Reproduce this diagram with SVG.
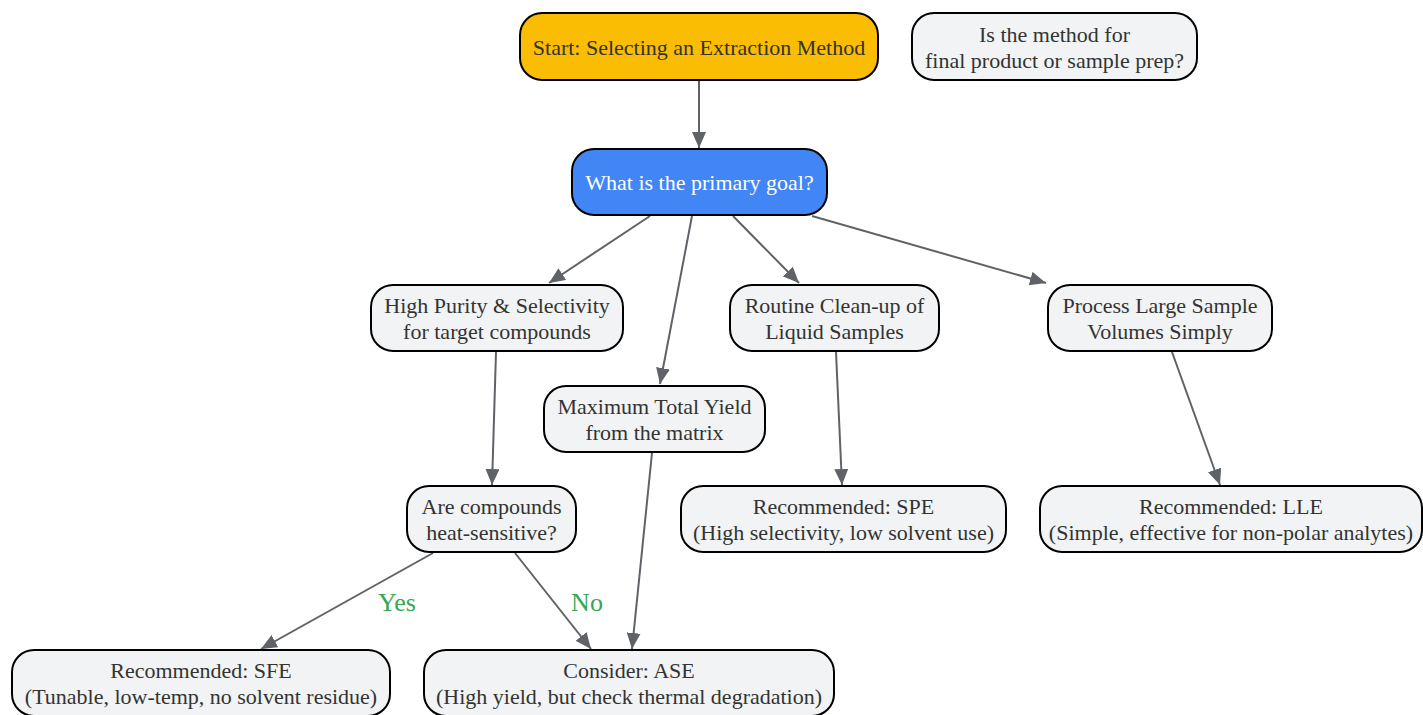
<svg xmlns="http://www.w3.org/2000/svg" width="1423" height="715" viewBox="0 0 1423 715">
<style>
.n rect{fill:#f1f3f4;stroke:#000;stroke-width:2}
.n text{font-family:"Liberation Serif",serif;font-size:22px;fill:#333;text-anchor:middle}
#start rect{fill:#fbbc04}
#goal rect{fill:#4285f4}
#goal text{fill:#fff}
.e line{stroke:#5f6368;stroke-width:2;fill:none}
.lbl{font-family:"Liberation Serif",serif;font-size:26px;fill:#34a853;text-anchor:middle}
</style>
<defs>
<marker id="a" viewBox="0 0 16 14" refX="16" refY="7" markerWidth="16" markerHeight="14" markerUnits="userSpaceOnUse" orient="auto">
<path d="M0,0 L16,7 L0,14 Z" fill="#5f6368"/>
</marker>
</defs>
<g class="e" id="edges">
<line x1="699" y1="81" x2="699" y2="148" marker-end="url(#a)"/>
<line x1="650" y1="216" x2="549" y2="283" marker-end="url(#a)"/>
<line x1="692" y1="216" x2="660" y2="384" marker-end="url(#a)"/>
<line x1="733" y1="216" x2="799" y2="283" marker-end="url(#a)"/>
<line x1="812" y1="216" x2="1046" y2="283" marker-end="url(#a)"/>
<line x1="496" y1="352" x2="492" y2="485" marker-end="url(#a)"/>
<line x1="836" y1="352" x2="842" y2="485" marker-end="url(#a)"/>
<line x1="1172" y1="352" x2="1220" y2="485" marker-end="url(#a)"/>
<line x1="433" y1="553" x2="261" y2="649" marker-end="url(#a)"/>
<line x1="515" y1="553" x2="591" y2="649" marker-end="url(#a)"/>
<line x1="652" y1="453" x2="632" y2="649" marker-end="url(#a)"/>
<text class="lbl" x="397" y="611">Yes</text>
<text class="lbl" x="587" y="611">No</text>
</g>
<g class="n" id="start"><rect x="520" y="13" width="358" height="67" rx="22"/><text x="699" y="55">Start: Selecting an Extraction Method</text></g>
<g class="n" id="note"><rect x="912" y="13" width="285" height="67" rx="22"/><text x="1054.5" y="42">Is the method for</text><text x="1054.5" y="68">final product or sample prep?</text></g>
<g class="n" id="goal"><rect x="572" y="149" width="255" height="66" rx="22"/><text x="699.5" y="190">What is the primary goal?</text></g>
<g class="n" id="purity"><rect x="371" y="285" width="252" height="66" rx="22"/><text x="497" y="313">High Purity &amp; Selectivity</text><text x="497" y="339">for target compounds</text></g>
<g class="n" id="routine"><rect x="730" y="285" width="209" height="66" rx="22"/><text x="834.5" y="313">Routine Clean-up of</text><text x="834.5" y="339">Liquid Samples</text></g>
<g class="n" id="large"><rect x="1048" y="285" width="224" height="66" rx="22"/><text x="1160" y="313">Process Large Sample</text><text x="1160" y="339">Volumes Simply</text></g>
<g class="n" id="yield"><rect x="544" y="386" width="221" height="66" rx="22"/><text x="654.5" y="414">Maximum Total Yield</text><text x="654.5" y="440">from the matrix</text></g>
<g class="n" id="heat"><rect x="407" y="486" width="169" height="66" rx="22"/><text x="491.5" y="514">Are compounds</text><text x="491.5" y="540">heat-sensitive?</text></g>
<g class="n" id="spe"><rect x="681" y="486" width="325" height="66" rx="22"/><text x="843.5" y="514">Recommended: SPE</text><text x="843.5" y="540">(High selectivity, low solvent use)</text></g>
<g class="n" id="lle"><rect x="1040" y="486" width="382" height="66" rx="22"/><text x="1231" y="514">Recommended: LLE</text><text x="1231" y="540">(Simple, effective for non-polar analytes)</text></g>
<g class="n" id="sfe"><rect x="12" y="650" width="378" height="66" rx="22"/><text x="201" y="678">Recommended: SFE</text><text x="201" y="704">(Tunable, low-temp, no solvent residue)</text></g>
<g class="n" id="ase"><rect x="424" y="650" width="410" height="66" rx="22"/><text x="629" y="678">Consider: ASE</text><text x="629" y="704">(High yield, but check thermal degradation)</text></g>
</svg>
